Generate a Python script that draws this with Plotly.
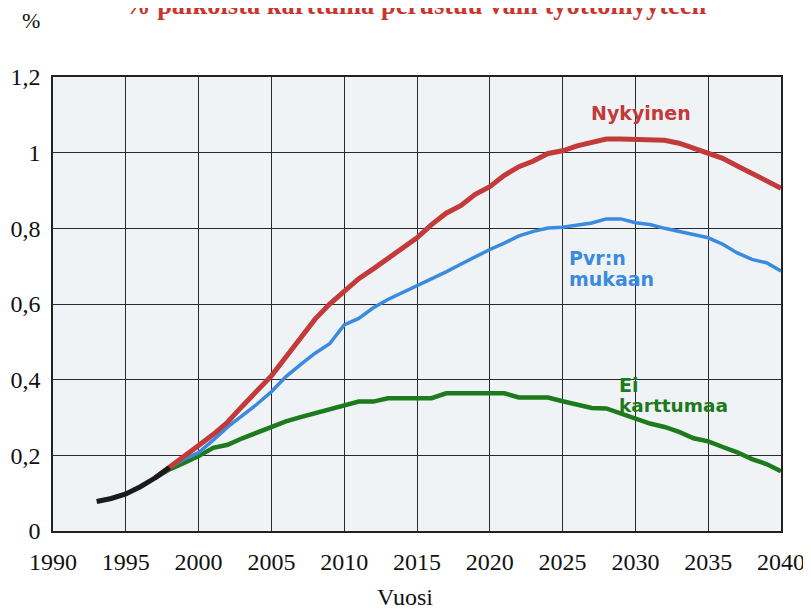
import plotly.graph_objects as go

# ---- data ----
years_hist = [1993, 1994, 1995, 1996, 1997, 1998]
hist = [0.078, 0.086, 0.098, 0.117, 0.140, 0.168]

years = list(range(1997, 2041))
nykyinen = [0.140, 0.170, 0.198, 0.226, 0.255, 0.288, 0.330, 0.370, 0.410, 0.460,
            0.510, 0.560, 0.600, 0.635, 0.667, 0.693, 0.720, 0.748, 0.775, 0.810,
            0.840, 0.860, 0.890, 0.910, 0.940, 0.963, 0.978, 0.998, 1.005, 1.018,
            1.028, 1.036, 1.036, 1.036, 1.036, 1.033, 1.025, 1.012, 0.998, 0.985,
            0.965, 0.945, 0.925, 0.906]
pvr = [0.140, 0.168, 0.190, 0.207, 0.240, 0.275, 0.305, 0.335, 0.368, 0.408,
       0.440, 0.470, 0.495, 0.545, 0.562, 0.590, 0.612, 0.630, 0.648, 0.668,
       0.685, 0.705, 0.725, 0.744, 0.761, 0.780, 0.792, 0.801, 0.803, 0.808,
       0.814, 0.825, 0.825, 0.815, 0.810, 0.800, 0.792, 0.783, 0.775, 0.758,
       0.735, 0.718, 0.709, 0.687]
ei = [0.140, 0.163, 0.180, 0.198, 0.220, 0.228, 0.245, 0.260, 0.278, 0.290,
      0.301, 0.312, 0.322, 0.332, 0.342, 0.342, 0.351, 0.351, 0.351, 0.351,
      0.364, 0.364, 0.364, 0.364, 0.364, 0.353, 0.353, 0.353, 0.343, 0.334,
      0.325, 0.324, 0.310, 0.295, 0.284, 0.275, 0.262, 0.245, 0.237, 0.222,
      0.208, 0.190, 0.177, 0.158]

x_ticks = [1990, 1995, 2000, 2005, 2010, 2015, 2020, 2025, 2030, 2035, 2040]
y_ticks = [0, 0.2, 0.4, 0.6, 0.8, 1.0, 1.2]
y_ticktext = ["0", "0,2", "0,4", "0,6", "0,8", "1", "1,2"]

RED = "#c23a3a"
BLUE = "#3a8be0"
GREEN = "#1d7a1d"

fig = go.Figure()
fig.add_trace(go.Scatter(x=years, y=ei, mode="lines", line=dict(color=GREEN, width=4.5), showlegend=False))
fig.add_trace(go.Scatter(x=years, y=pvr, mode="lines", line=dict(color=BLUE, width=3.5), showlegend=False))
fig.add_trace(go.Scatter(x=years, y=nykyinen, mode="lines", line=dict(color=RED, width=5), showlegend=False))
fig.add_trace(go.Scatter(x=years_hist, y=hist, mode="lines", line=dict(color="#1a1a1a", width=5), showlegend=False))

serif = "Liberation Serif"
sans = "DejaVu Sans"

# page pixel -> paper coordinates (plot area spans x 53..781, y 77..531 on the page)
def px(x):
    return (x - 53) / 728

def py(y):
    return (531 - y) / 454

def label(text, xp, yp, color, size=19):
    return dict(text="<b>%s</b>" % text, xref="paper", yref="paper", x=px(xp), y=py(yp),
                xanchor="left", yanchor="middle", showarrow=False,
                font=dict(family=sans, size=size, color=color))

fig.update_layout(
    template="none",
    width=803, height=603,
    margin=dict(l=45, r=30, t=69, b=80, pad=0),
    paper_bgcolor="white",
    plot_bgcolor="#f0f3f6",
    font=dict(family=serif, size=24, color="#111"),
    xaxis=dict(range=[1990, 2040], tickvals=x_ticks, showgrid=True, gridcolor="#2a2a2a", gridwidth=1,
               zeroline=False, showline=True, linecolor="#222", linewidth=1.5, mirror=True,
               ticks="outside", ticklen=8, tickcolor="rgba(0,0,0,0)", automargin=False,
               tickfont=dict(family=serif, size=24, color="#111")),
    yaxis=dict(range=[0, 1.2], tickvals=y_ticks, ticktext=y_ticktext, showgrid=True, gridcolor="#2a2a2a",
               gridwidth=1, zeroline=False, showline=True, linecolor="#222", linewidth=1.5, mirror=True,
               ticks="outside", ticklen=6, tickcolor="rgba(0,0,0,0)", automargin=False,
               tickfont=dict(family=serif, size=24, color="#111")),
    annotations=[
        dict(text="<b>% palkoista karttuma perustuu vain työttömyyteen</b>", xref="paper", yref="paper",
             x=px(415), y=py(5), xanchor="center", yanchor="middle", showarrow=False,
             font=dict(family=serif, size=26.5, color="#c8362f")),
        dict(text="%", xref="paper", yref="paper", x=px(31), y=py(20),
             xanchor="center", yanchor="middle", showarrow=False, font=dict(family=serif, size=22, color="#111")),
        dict(text="Vuosi", xref="paper", yref="paper", x=px(405), y=py(597),
             xanchor="center", yanchor="middle", showarrow=False, font=dict(family=serif, size=24, color="#111")),
        label("Nykyinen", 589, 113, RED),
        label("Pvr:n", 567, 258, BLUE),
        label("mukaan", 567, 279, BLUE),
        label("Ei", 617, 385, GREEN),
        label("karttumaa", 617, 405, GREEN, 18.5),
    ],
)

fig.write_html("out.html")
